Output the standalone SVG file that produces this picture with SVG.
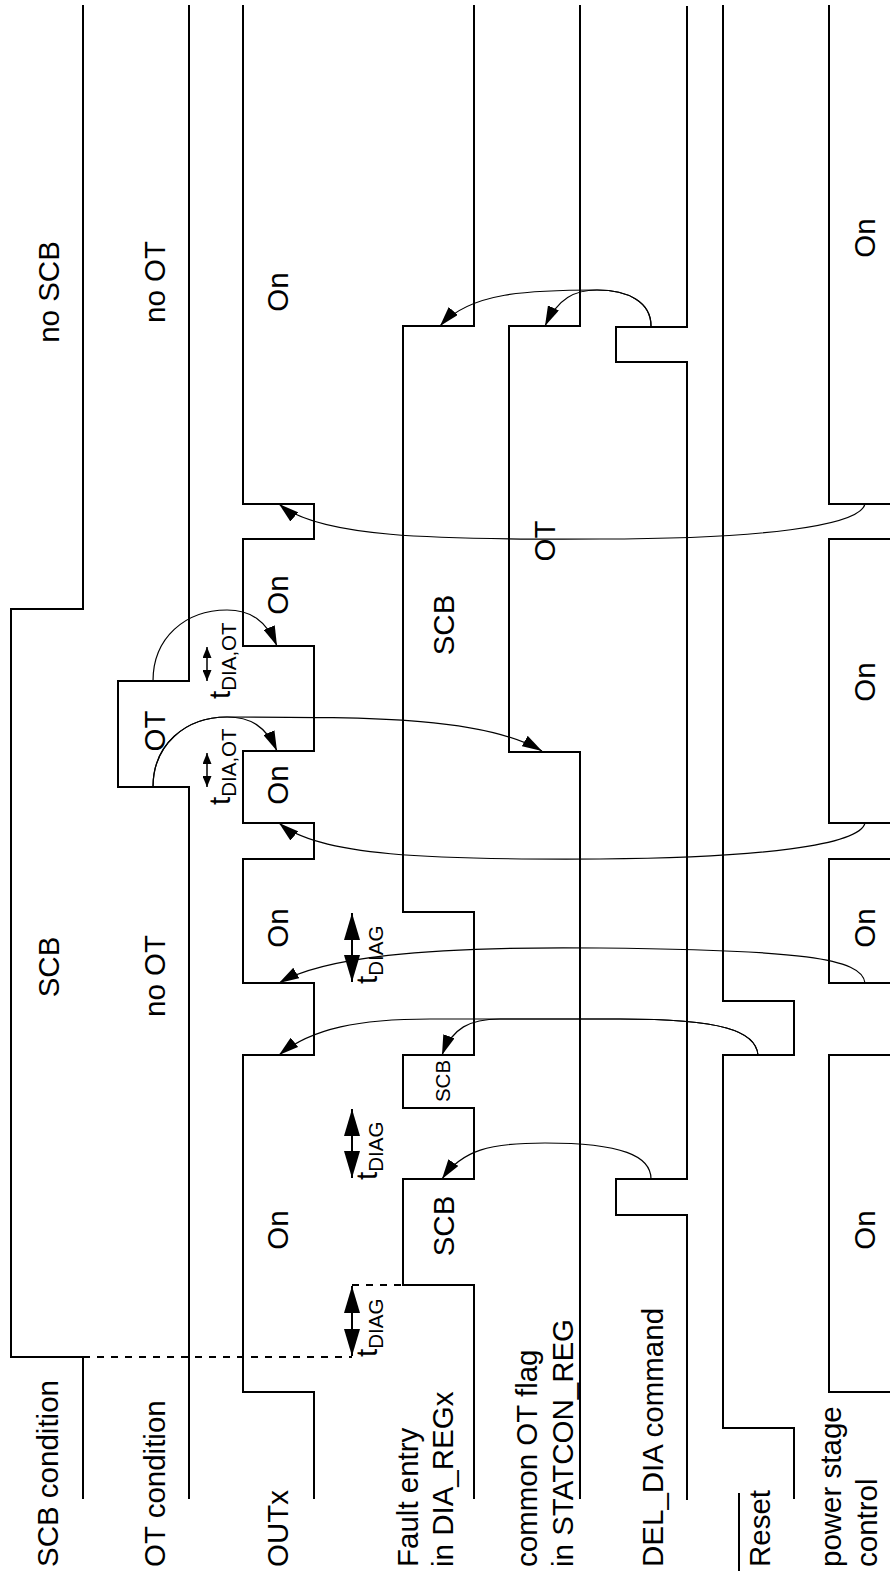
<svg xmlns="http://www.w3.org/2000/svg" width="890" height="1573" viewBox="0 0 890 1573">
<style>
.w{fill:none;stroke:#000;stroke-width:2;stroke-linejoin:miter}
.c{fill:none;stroke:#000;stroke-width:1.2}
.d{fill:none;stroke:#000;stroke-width:2;stroke-dasharray:7,7}
.t{font-family:"Liberation Sans",Arial,sans-serif;font-size:29.5px;fill:#000}
.m{text-anchor:middle}
.s{font-size:20.5px}
.dbl{stroke:#000;stroke-width:2}
.dbs{stroke:#000;stroke-width:1.5}
</style>
<defs>
<marker id="ah" markerUnits="userSpaceOnUse" markerWidth="20" markerHeight="12" refX="20" refY="6" orient="auto"><path d="M0,0 L20,6 L0,12 Z" fill="#000"/></marker>
<marker id="big" markerUnits="userSpaceOnUse" markerWidth="27" markerHeight="16" refX="27" refY="8" orient="auto-start-reverse"><path d="M0,0 L27,8 L0,16 Z" fill="#000"/></marker>
<marker id="sm" markerUnits="userSpaceOnUse" markerWidth="11" markerHeight="9" refX="11" refY="4.5" orient="auto-start-reverse"><path d="M0,0 L11,4.5 L0,9 Z" fill="#000"/></marker>
</defs>
<rect width="890" height="1573" fill="#fff"/>

<g id="lane-scb">
<polyline class="w" points="83,5 83,609 11,609 11,1357 83,1357 83,1499"/>
<text class="t m" transform="translate(59,292) rotate(-90)">no SCB</text>
<text class="t m" transform="translate(59,967) rotate(-90)">SCB</text>
<text class="t" transform="translate(58,1567) rotate(-90)">SCB condition</text>
</g>

<g id="lane-ot">
<polyline class="w" points="189,5 189,681 118,681 118,787 189,787 189,1499"/>
<text class="t m" transform="translate(165,282) rotate(-90)">no OT</text>
<text class="t m" transform="translate(165,731) rotate(-90)">OT</text>
<text class="t m" transform="translate(165,976) rotate(-90)">no OT</text>
<text class="t" transform="translate(165,1567) rotate(-90)">OT condition</text>
</g>

<g id="lane-outx">
<polyline class="w" points="243,5 243,504 314,504 314,539 243,539 243,646 314,646 314,751 243,751 243,823 314,823 314,859 243,859 243,983 314,983 314,1055 243,1055 243,1392 314,1392 314,1499"/>
<text class="t m" transform="translate(288,292) rotate(-90)">On</text>
<text class="t m" transform="translate(288,595) rotate(-90)">On</text>
<text class="t m" transform="translate(288,785) rotate(-90)">On</text>
<text class="t m" transform="translate(288,928) rotate(-90)">On</text>
<text class="t m" transform="translate(288,1230) rotate(-90)">On</text>
<text class="t" transform="translate(288,1567) rotate(-90)">OUTx</text>
</g>

<g id="lane-fault">
<polyline class="w" points="474,5 474,326 403,326 403,912 474,912 474,1055 403,1055 403,1108 474,1108 474,1179 403,1179 403,1285 474,1285 474,1499"/>
<text class="t m" transform="translate(454,625) rotate(-90)">SCB</text>
<text class="t m s" transform="translate(450,1081) rotate(-90)">SCB</text>
<text class="t m" transform="translate(454,1226) rotate(-90)">SCB</text>
<text class="t" transform="translate(418,1567) rotate(-90)">Fault entry</text>
<text class="t" transform="translate(453,1567) rotate(-90)">in DIA_REGx</text>
</g>

<g id="lane-statcon">
<polyline class="w" points="580,5 580,326 509,326 509,752 580,752 580,1499"/>
<text class="t m" transform="translate(555,541) rotate(-90)">OT</text>
<text class="t" transform="translate(537,1567) rotate(-90)">common OT flag</text>
<text class="t" transform="translate(573,1567) rotate(-90)">in STATCON_REG</text>
</g>

<g id="lane-deldia">
<polyline class="w" points="687,6 687,327 616,327 616,362 687,362 687,1179 616,1179 616,1215 687,1215 687,1500"/>
<text class="t" transform="translate(663,1567) rotate(-90)">DEL_DIA command</text>
</g>

<g id="lane-reset">
<polyline class="w" points="723,5 723,1001 794,1001 794,1055 723,1055 723,1428 794,1428 794,1499"/>
<text class="t" transform="translate(770,1567) rotate(-90)">Reset</text>
<line class="w" x1="739" y1="1493" x2="739" y2="1571"/>
</g>

<g id="lane-power">
<path class="w" d="M829,5 V504 H892 M892,539 H829 V823 H892 M892,859 H829 V983 H892 M892,1055 H829 V1392 H892"/>
<text class="t m" transform="translate(875,238) rotate(-90)">On</text>
<text class="t m" transform="translate(875,682) rotate(-90)">On</text>
<text class="t m" transform="translate(875,928) rotate(-90)">On</text>
<text class="t m" transform="translate(875,1230) rotate(-90)">On</text>
<text class="t" transform="translate(841,1567) rotate(-90)">power stage</text>
<text class="t" transform="translate(877,1567) rotate(-90)">control</text>
</g>

<g id="timing">
<line class="d" x1="83" y1="1357" x2="352" y2="1357"/>
<line class="d" x1="352" y1="1285" x2="403" y2="1285"/>
<line class="dbl" x1="352" y1="1286" x2="352" y2="1356" marker-start="url(#big)" marker-end="url(#big)"/>
<text class="t" transform="translate(377,1357) rotate(-90)">t<tspan class="s" dy="6">DIAG</tspan></text>
<line class="dbl" x1="352" y1="1109" x2="352" y2="1178" marker-start="url(#big)" marker-end="url(#big)"/>
<text class="t" transform="translate(377,1180) rotate(-90)">t<tspan class="s" dy="6">DIAG</tspan></text>
<line class="dbl" x1="352" y1="913" x2="352" y2="982" marker-start="url(#big)" marker-end="url(#big)"/>
<text class="t" transform="translate(377,984) rotate(-90)">t<tspan class="s" dy="6">DIAG</tspan></text>
<line class="dbs" x1="207" y1="647" x2="207" y2="681" marker-start="url(#sm)" marker-end="url(#sm)"/>
<text class="t" transform="translate(230,699) rotate(-90)">t<tspan class="s" dy="6">DIA,OT</tspan></text>
<line class="dbs" x1="207" y1="753" x2="207" y2="787" marker-start="url(#sm)" marker-end="url(#sm)"/>
<text class="t" transform="translate(230,805) rotate(-90)">t<tspan class="s" dy="6">DIA,OT</tspan></text>
</g>

<g id="connectors">
<path class="c" d="M651,326 C651,302 628,290 597,290 C530,290 470,292 440,326" marker-end="url(#ah)"/>
<path class="c" d="M651,326 C651,302 628,290 597,290 C575,290 558,298 545,326" marker-end="url(#ah)"/>
<path class="c" d="M651,1179 C651,1156 622,1143 545,1143 C490,1143 462,1150 442,1179" marker-end="url(#ah)"/>
<path class="c" d="M758,1055 C756,1031 722,1019 620,1019 L500,1019 C470,1019 452,1028 442,1055" marker-end="url(#ah)"/>
<path class="c" d="M758,1055 C756,1031 722,1019 620,1019 L430,1019 C360,1019 312,1028 279,1055" marker-end="url(#ah)"/>
<path class="c" d="M865,983 C862,958 800,950 600,948 C420,946 322,958 279,983" marker-end="url(#ah)"/>
<path class="c" d="M865,823 C860,845 760,858 600,859 C430,860 318,856 279,823" marker-end="url(#ah)"/>
<path class="c" d="M865,504 C860,526 760,539 600,539 C430,540 318,537 279,504" marker-end="url(#ah)"/>
<path class="c" d="M153,787 C153,745 185,717 227,717 C250,717 266,726 277,751" marker-end="url(#ah)"/>
<path class="c" d="M153,787 C153,745 185,717 227,717 C380,717 485,718 542,751" marker-end="url(#ah)"/>
<path class="c" d="M153,681 C153,638 185,610 227,610 C250,610 266,620 277,646" marker-end="url(#ah)"/>
</g>
</svg>
